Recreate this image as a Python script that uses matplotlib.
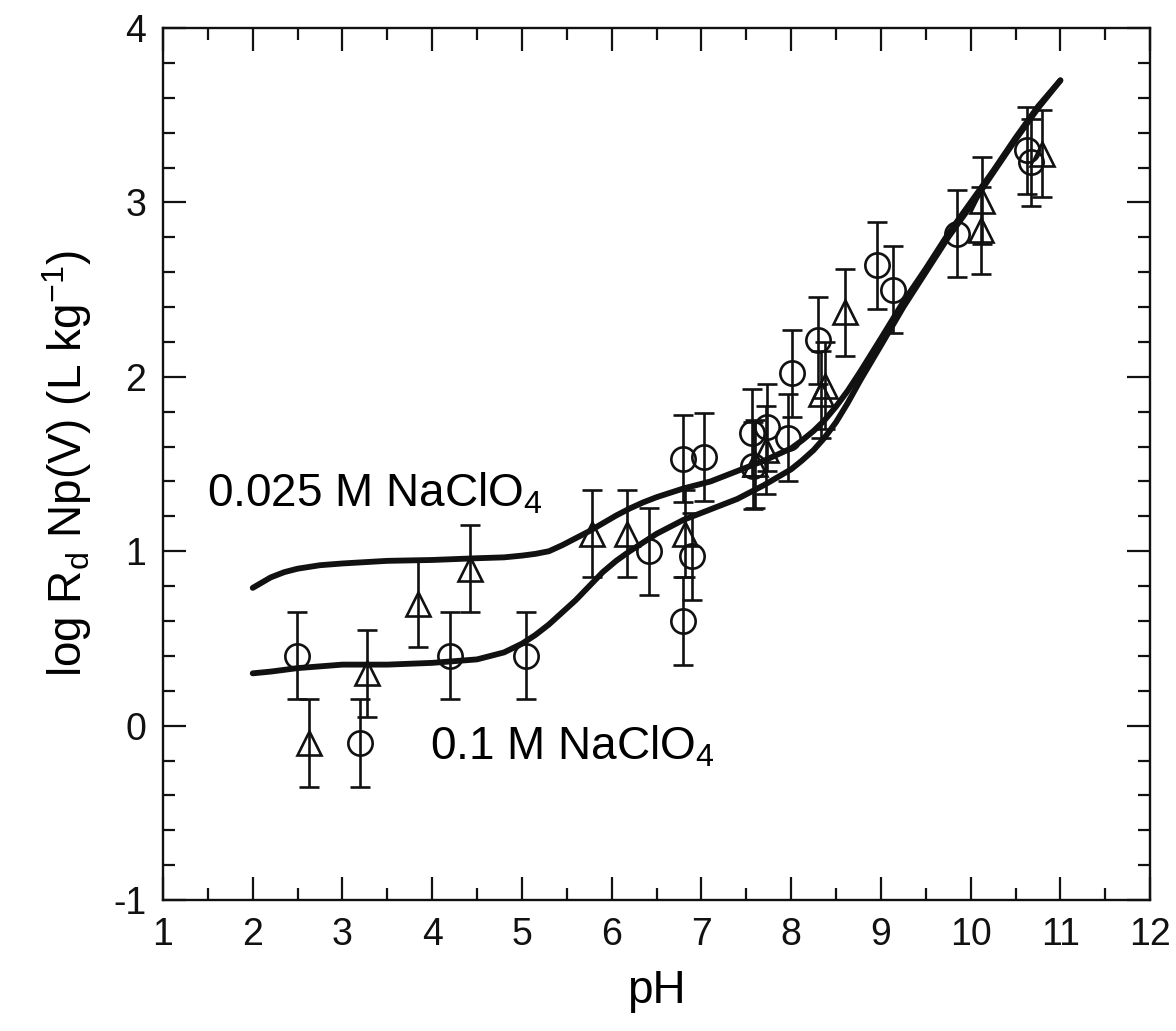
import matplotlib
matplotlib.use("Agg")
import matplotlib.pyplot as plt
from matplotlib.ticker import MultipleLocator

plt.rcParams['font.family'] = ['Liberation Sans', 'DejaVu Sans']
plt.rcParams['mathtext.default'] = 'regular'
plt.rcParams['axes.unicode_minus'] = False

# circles
ph_circ = [2.49, 3.20, 4.20, 5.05, 6.42, 6.79, 6.79, 6.89, 7.03, 7.56, 7.58,
           7.73, 7.96, 8.01, 8.30, 8.96, 9.14, 9.85, 10.63, 10.67]
rd_circ = [0.40, -0.10, 0.40, 0.40, 1.00, 1.53, 0.60, 0.97, 1.54, 1.68, 1.49,
           1.71, 1.65, 2.02, 2.21, 2.64, 2.50, 2.82, 3.30, 3.23]
err_circ = [0.25] * len(ph_circ)

# triangles
ph_tri = [2.63, 3.27, 3.84, 4.42, 5.78, 6.17, 6.82, 7.60, 7.72, 8.33, 8.38,
          8.60, 10.11, 10.13, 10.80]
rd_tri = [-0.10, 0.30, 0.70, 0.90, 1.10, 1.10, 1.10, 1.50, 1.58, 1.90, 1.95,
          2.37, 2.84, 3.01, 3.28]
err_tri = [0.25] * len(ph_tri)

# model curves
ph_fit = [2.0, 2.1, 2.2, 2.35, 2.5, 2.75, 3.0, 3.5, 4.0, 4.5, 4.8, 5.0, 5.15,
          5.3, 5.45, 5.6, 5.75, 5.9, 6.05, 6.2, 6.35, 6.5, 6.65, 6.8, 6.95,
          7.1, 7.25, 7.4, 7.55, 7.7, 7.85, 8.0, 8.12, 8.25, 8.37, 8.5, 8.63,
          8.77, 9.0, 9.25, 9.5, 9.75, 10.0, 10.25, 10.5, 10.75, 11.0]
rd_025 = [0.79, 0.82, 0.85, 0.88, 0.90, 0.92, 0.93, 0.945, 0.95, 0.96, 0.965,
          0.975, 0.985, 1.00, 1.035, 1.075, 1.115, 1.16, 1.205, 1.245, 1.28,
          1.31, 1.335, 1.36, 1.38, 1.40, 1.43, 1.46, 1.49, 1.52, 1.555, 1.59,
          1.635, 1.69, 1.75, 1.83, 1.92, 2.03, 2.22, 2.43, 2.62, 2.82, 3.00,
          3.18, 3.37, 3.55, 3.70]
rd_01 = [0.30, 0.305, 0.31, 0.32, 0.33, 0.34, 0.35, 0.35, 0.36, 0.38, 0.42,
         0.47, 0.52, 0.58, 0.65, 0.72, 0.80, 0.88, 0.945, 1.00, 1.05, 1.10,
         1.14, 1.18, 1.21, 1.24, 1.27, 1.30, 1.34, 1.38, 1.425, 1.47, 1.52,
         1.58, 1.65, 1.74, 1.85, 1.98, 2.18, 2.40, 2.60, 2.80, 2.98, 3.17,
         3.36, 3.54, 3.70]

fig = plt.figure(figsize=(11.76, 10.31), dpi=100)
ax = fig.add_axes([0.1386, 0.127, 0.8394, 0.8458])

ax.plot(ph_fit, rd_025, color='#111111', lw=4.2, solid_capstyle='round',
        solid_joinstyle='round', zorder=3)
ax.plot(ph_fit, rd_01, color='#111111', lw=4.2, solid_capstyle='round',
        solid_joinstyle='round', zorder=3)

ax.errorbar(ph_circ, rd_circ, yerr=err_circ, fmt='o', ms=17.5, mfc='none',
            mec='#111111', mew=1.9, ecolor='#111111', elinewidth=1.9,
            capsize=7, capthick=1.9, zorder=4)
ax.errorbar(ph_tri, rd_tri, yerr=err_tri, fmt='^', ms=17.5, mfc='none',
            mec='#111111', mew=1.9, ecolor='#111111', elinewidth=1.9,
            capsize=7, capthick=1.9, zorder=4)

ax.text(1.49, 1.33, '0.025 M NaClO$_4$', fontsize=33, va='center', ha='left')
ax.text(3.98, -0.12, '0.1 M NaClO$_4$', fontsize=33, va='center', ha='left')

ax.set_xlim(1, 12)
ax.set_ylim(-1, 4)
ax.xaxis.set_major_locator(MultipleLocator(1))
ax.xaxis.set_minor_locator(MultipleLocator(0.5))
ax.yaxis.set_major_locator(MultipleLocator(1))
ax.yaxis.set_minor_locator(MultipleLocator(0.2))
ax.tick_params(which='both', direction='in', top=True, right=True,
               width=1.6, colors='#111111')
ax.tick_params(which='major', length=16.5, labelsize=27, pad=12)
ax.tick_params(which='minor', length=8.5)
for sp in ax.spines.values():
    sp.set_linewidth(1.7)
    sp.set_color('#111111')

ax.set_xlabel('pH', fontsize=33, labelpad=12)
ax.set_ylabel('log R$_d$ Np(V) (L kg$^{-1}$)', fontsize=33, labelpad=14)

fig.savefig('out.png', dpi=100)
